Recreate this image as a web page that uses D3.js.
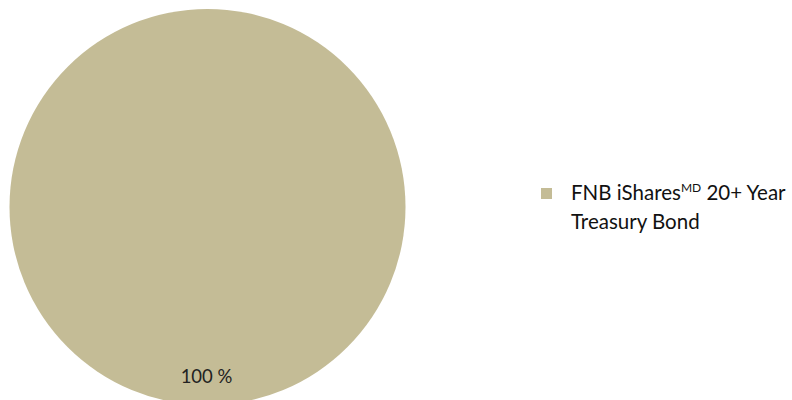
<!DOCTYPE html>
<html>
<head>
<meta charset="utf-8">
<script src="https://cdn.jsdelivr.net/npm/d3@7"></script>
<style>
  body { margin: 0; background: #fff; }
  svg { display: block; font-family: Lato, "Open Sans", sans-serif; }
</style>
</head>
<body>
<svg id="chart"></svg>
<script>
const categories = [["FNB iShares", "MD", " 20+ Year", "Treasury Bond"]]
const values = [100]
const labels = ["100 %"]
const colors = ["#c4bc96"]

let
  width = 792,
  height = 400

var svg = d3.select("#chart")
  .attr("width", width)
  .attr("height", height)

var radius = 198
var group = svg.append("g")
  .attr("transform", `translate(207.5,207)`)

var pie = d3.pie().sort(null)
var arc = d3.arc().innerRadius(0).outerRadius(radius)
var slices = pie(values)

group.selectAll("path")
  .data(slices)
  .enter()
  .append("path")
  .attr("d", arc)
  .attr("fill", (d, i) => colors[i])

// data label sits near the bottom of the pie
group.selectAll(".label")
  .data(slices)
  .enter()
  .append("text")
  .attr("class", "label")
  .attr("x", -1)
  .attr("y", radius * 0.89)
  .attr("text-anchor", "middle")
  .attr("font-size", 18.5)
  .attr("fill", "#222")
  .text((d, i) => labels[i])

// legend
var legend = svg.append("g")
  .attr("transform", "translate(541,188)")

legend.append("rect")
  .attr("width", 11)
  .attr("height", 11)
  .attr("fill", colors[0])

var parts = categories[0]
var t = legend.append("text")
  .attr("x", 30)
  .attr("y", 12)
  .attr("font-size", 20.5)
  .attr("fill", "#111")

t.append("tspan").text(parts[0])
t.append("tspan").attr("font-size", 12).attr("dy", -8).text(parts[1])
t.append("tspan").attr("dy", 8).text(parts[2])
t.append("tspan").attr("x", 30).attr("dy", 29).text(parts[3])
</script>
</body>
</html>
